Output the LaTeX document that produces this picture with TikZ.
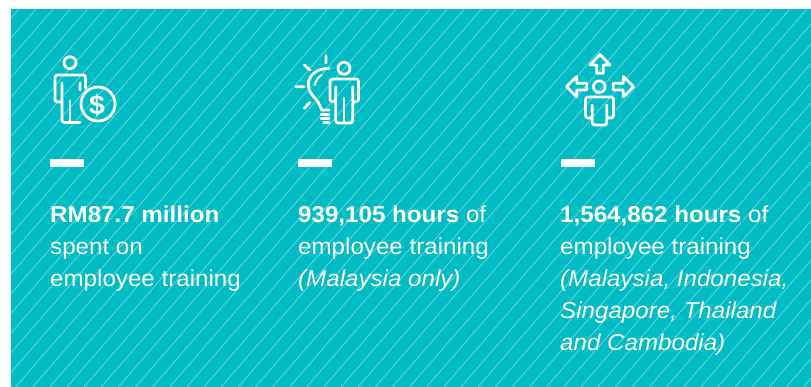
\documentclass[tikz,border=0pt]{standalone}
\usepackage{fontspec}
\setmainfont[FakeStretch=1.05]{Liberation Sans}
\definecolor{panel}{HTML}{00BCC4}
\tikzset{
  icon/.style={draw=white,line width=2.8pt,line join=round,line cap=round},
  hatch/.style={draw=white,draw opacity=.5,line width=.6pt},
  bar/.style={fill=white},
  stat/.style={anchor=base west,text=white,inner sep=0pt,font=\fontsize{23}{23}\selectfont}
}
\begin{document}
\begin{tikzpicture}[x=1pt,y=-1pt]
\useasboundingbox (0,0) rectangle (811,387);
\fill[white] (0,0) rectangle (811,387);
\fill[panel] (11,9) rectangle (811,387);
\begin{scope}
  \clip (11,9) rectangle (811,387);
  \foreach \k in {-1,...,66}{
    \draw[hatch] ({19+17.13*\k},9) -- ({19+17.13*\k-329},387);
  }
\end{scope}
% icon 1: person with coin
\draw[icon] (70,62.7) circle (6);
\draw[icon,rounded corners=2.5pt] (80,122.5) -- (62,122.5) -- (62,83) (62,102) -- (55,102) -- (55,75) -- (85.5,75) -- (85.5,88) (80,83) -- (80,90);
\draw[icon] (70,101) -- (70,122);
\draw[icon] (98,104) circle (17);
\node[text=white,inner sep=0pt,font=\bfseries\fontsize{27}{27}\selectfont] (coin) at (97,105) {\$};
% icon 2: bulb and person
\draw[icon] (344,68.3) circle (6);
\draw[icon,rounded corners=2.5pt] (335.7,86.7) -- (335.7,101.7) -- (330,101.7) -- (330,79) -- (358.5,79) -- (358.5,101.7) -- (352.7,101.7) -- (352.7,123) -- (335.7,123) -- (335.7,101.7) (352.7,86.7) -- (352.7,101.7);
\draw[icon] (344,98) -- (344,122);
\draw[icon] (329.3,68.3) .. controls (317,68.3) and (308.3,75) .. (308.3,85) .. controls (308.3,94) and (317,98) .. (320,106) -- (321.7,110) -- (329,110);
\draw[icon,line width=2pt] (321.7,75) .. controls (318,77) and (315.5,81) .. (315,85);
\draw[icon,line width=2.2pt] (321,114.5) -- (329.3,114.5) (321,118.5) -- (329.3,118.5) (323.5,122.5) -- (329.3,122.5);
\draw[icon] (326,55.5) -- (326,63) (304.3,65) -- (310,70) (296,86.7) -- (304,86.7) (304.3,108.3) -- (310,102.3);
% icon 3: person with three arrows
\draw[icon] (599.3,86.7) circle (5.8);
\draw[icon] (600,54.5) -- (610,65) -- (603.3,65) -- (603.3,73.3) -- (596.7,73.3) -- (596.7,65) -- (590,65) -- cycle;
\draw[icon] (566.5,86.7) -- (576.7,76.5) -- (576.7,83.3) -- (586.7,83.3) -- (586.7,90) -- (576.7,90) -- (576.7,97) -- cycle;
\draw[icon] (633.5,86.7) -- (623.3,76.5) -- (623.3,83.3) -- (613.3,83.3) -- (613.3,90) -- (623.3,90) -- (623.3,97) -- cycle;
\draw[icon,rounded corners=2.5pt] (592.3,105) -- (592.3,118) -- (585.5,118) -- (585.5,97) -- (613.5,97) -- (613.5,118) -- (606.7,118) -- (606.7,105) (606.7,118) -- (606.7,125) -- (592.3,125) -- (592.3,118);
% bars
\fill[bar] (50,159.3) rectangle (84,167);
\fill[bar] (298,159.3) rectangle (332,167);
\fill[bar] (561,159.3) rectangle (595,167);
% text
\node[stat] (a1) at (50,222.3) {\textbf{RM87.7 million}};
\node[stat] (a2) at (50,254.5) {spent on};
\node[stat] (a3) at (50,286.5) {employee training};
\node[stat] (b1) at (298,222.3) {\textbf{939,105 hours} of};
\node[stat] (b2) at (298,254.5) {employee training};
\node[stat] (b3) at (298,286.5) {\textit{(Malaysia only)}};
\node[stat] (c1) at (560,222.3) {\textbf{1,564,862 hours} of};
\node[stat] (c2) at (560,254.5) {employee training};
\node[stat] (c3) at (560,286.5) {\textit{(Malaysia, Indonesia,}};
\node[stat] (c4) at (560,318.3) {\textit{Singapore, Thailand}};
\node[stat] (c5) at (560,350) {\textit{and Cambodia)}};
\end{tikzpicture}
\end{document}
